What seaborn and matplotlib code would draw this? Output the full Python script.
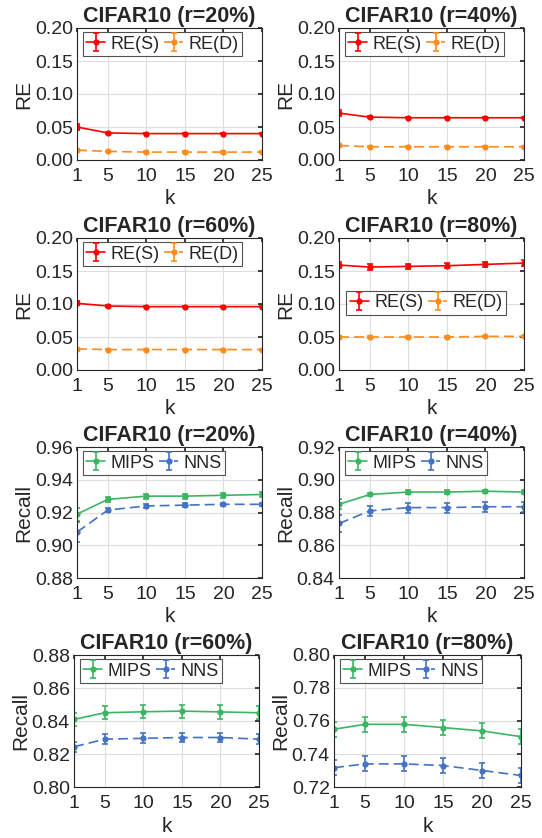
import numpy as np
import matplotlib
matplotlib.use("Agg")
import matplotlib.pyplot as plt
import seaborn as sns
from matplotlib.legend_handler import HandlerTuple

sns.set_theme(style="white")
plt.rcParams['font.family'] = ['Liberation Sans', 'DejaVu Sans']

k = [1, 5, 10, 15, 20, 25]
rates = ["20%", "40%", "60%", "80%"]

# relative error, sparse (S) and dense (D)
re_s = {
    "20%": [0.050, 0.041, 0.040, 0.040, 0.040, 0.040],
    "40%": [0.071, 0.065, 0.064, 0.064, 0.064, 0.064],
    "60%": [0.101, 0.097, 0.096, 0.096, 0.096, 0.096],
    "80%": [0.159, 0.156, 0.157, 0.158, 0.160, 0.162],
}
re_s_err = {
    "20%": [0.005, 0.002, 0.001, 0.001, 0.001, 0.001],
    "40%": [0.004, 0.002, 0.001, 0.001, 0.001, 0.001],
    "60%": [0.003, 0.002, 0.001, 0.001, 0.001, 0.001],
    "80%": [0.004, 0.004, 0.004, 0.004, 0.004, 0.004],
}
re_d = {
    "20%": [0.015, 0.013, 0.012, 0.012, 0.012, 0.012],
    "40%": [0.022, 0.020, 0.020, 0.020, 0.020, 0.020],
    "60%": [0.032, 0.031, 0.031, 0.031, 0.031, 0.031],
    "80%": [0.050, 0.050, 0.050, 0.050, 0.051, 0.051],
}
re_d_err = {
    "20%": [0.001, 0.001, 0.001, 0.001, 0.001, 0.001],
    "40%": [0.001, 0.001, 0.001, 0.001, 0.001, 0.001],
    "60%": [0.001, 0.001, 0.001, 0.001, 0.001, 0.001],
    "80%": [0.001, 0.001, 0.001, 0.001, 0.001, 0.001],
}

# recall, MIPS and NNS
mips = {
    "20%": [0.919, 0.928, 0.930, 0.930, 0.9305, 0.931],
    "40%": [0.885, 0.891, 0.8925, 0.8925, 0.893, 0.8925],
    "60%": [0.841, 0.845, 0.8456, 0.846, 0.8455, 0.845],
    "80%": [0.755, 0.758, 0.758, 0.756, 0.754, 0.7505],
}
mips_err = {
    "20%": [0.004, 0.0015, 0.0015, 0.0015, 0.0015, 0.0015],
    "40%": [0.003, 0.001, 0.001, 0.001, 0.001, 0.001],
    "60%": [0.004, 0.004, 0.004, 0.004, 0.004, 0.004],
    "80%": [0.0045, 0.0045, 0.0045, 0.0045, 0.0045, 0.0045],
}
nns = {
    "20%": [0.908, 0.9215, 0.924, 0.9245, 0.925, 0.925],
    "40%": [0.8733, 0.881, 0.883, 0.883, 0.8835, 0.8835],
    "60%": [0.8244, 0.829, 0.8295, 0.830, 0.830, 0.829],
    "80%": [0.7317, 0.734, 0.734, 0.733, 0.730, 0.727],
}
nns_err = {
    "20%": [0.006, 0.001, 0.001, 0.001, 0.001, 0.001],
    "40%": [0.005, 0.003, 0.003, 0.003, 0.003, 0.003],
    "60%": [0.003, 0.003, 0.003, 0.003, 0.003, 0.003],
    "80%": [0.0045, 0.0045, 0.0045, 0.0045, 0.0045, 0.0045],
}

re_yticks = [0.00, 0.05, 0.10, 0.15, 0.20]
recall_yticks = {
    "20%": [0.88, 0.90, 0.92, 0.94, 0.96],
    "40%": [0.84, 0.86, 0.88, 0.90, 0.92],
    "60%": [0.80, 0.82, 0.84, 0.86, 0.88],
    "80%": [0.72, 0.74, 0.76, 0.78, 0.80],
}

RED = "#ff0000"
ORANGE = "#ff8c1a"
GREEN = "#3cb563"
BLUE = "#4472c4"
DASH = (0, (6, 3))

W, H = 542, 838
fig = plt.figure(figsize=(W / 100, H / 100), dpi=100)

# pixel boxes (left, right, top, bottom)
rows = [(28, 160), (238, 370), (447, 578), (655, 787)]
cols = [[(77, 262), (339, 524)]] * 3 + [[(74, 259), (334, 521)]]


def make_ax(r, c):
    (t, b) = rows[r]
    (l, rr) = cols[r][c]
    return fig.add_axes([l / W, 1 - b / H, (rr - l) / W, (b - t) / H])


def series(ax, y, err, color, ls, label):
    line = sns.lineplot(x=k, y=y, ax=ax, color=color, linestyle=ls, marker="o",
                        markersize=4.5, markeredgewidth=0, linewidth=1.2,
                        legend=False).lines[-1]
    eb = ax.errorbar(k, y, yerr=err, fmt="none", ecolor=color, elinewidth=1.2,
                     capsize=2, capthick=1.2)
    return (line, eb), label


def style(ax, yticks, ylabel, fmt):
    ax.set_xlim(1, 25)
    ax.set_xticks(k)
    ax.set_ylim(yticks[0], yticks[-1])
    ax.set_yticks(yticks)
    ax.set_yticklabels([fmt.format(v) for v in yticks])
    ax.grid(True, color="#dddddd", linewidth=0.8)
    ax.tick_params(direction="in", length=3, top=True, right=True,
                   labelsize=14, colors="#262626")
    ax.tick_params(axis="x", pad=6)
    ax.tick_params(axis="y", pad=3)
    for s in ax.spines.values():
        s.set_color("#262626")
        s.set_linewidth(0.8)
    ax.set_xlabel("k", fontsize=15, labelpad=3)
    ax.set_ylabel(ylabel, fontsize=15, labelpad=1)


def add_legend(ax, handles, labels, loc, anchor):
    leg = ax.legend(handles, labels, handler_map={tuple: HandlerTuple(ndivide=1)},
                    ncol=2, loc=loc, bbox_to_anchor=anchor, fontsize=13,
                    frameon=True, fancybox=False, edgecolor="#262626",
                    borderpad=0.2, handlelength=1.05, handletextpad=0.3,
                    columnspacing=0.25, borderaxespad=0)
    leg.get_frame().set_linewidth(0.8)


for i, r in enumerate(rates):
    ax = make_ax(i // 2, i % 2)
    h1, l1 = series(ax, re_s[r], re_s_err[r], RED, "-", "RE(S)")
    h2, l2 = series(ax, re_d[r], re_d_err[r], ORANGE, DASH, "RE(D)")
    style(ax, re_yticks, "RE", "{:.2f}")
    ax.set_title(f"CIFAR10 (r={r})", fontsize=15.5, fontweight="bold", pad=4)
    if r == "80%":
        add_legend(ax, [h1, h2], [l1, l2], "center left", (0.04, 0.51))
    else:
        add_legend(ax, [h1, h2], [l1, l2], "upper left", (0.03, 0.97))

for i, r in enumerate(rates):
    ax = make_ax(2 + i // 2, i % 2)
    h1, l1 = series(ax, mips[r], mips_err[r], GREEN, "-", "MIPS")
    h2, l2 = series(ax, nns[r], nns_err[r], BLUE, DASH, "NNS")
    style(ax, recall_yticks[r], "Recall", "{:.2f}")
    ax.set_title(f"CIFAR10 (r={r})", fontsize=15.5, fontweight="bold", pad=4)
    add_legend(ax, [h1, h2], [l1, l2], "upper left", (0.03, 0.97))

fig.savefig("out.png", dpi=100, facecolor="white")
